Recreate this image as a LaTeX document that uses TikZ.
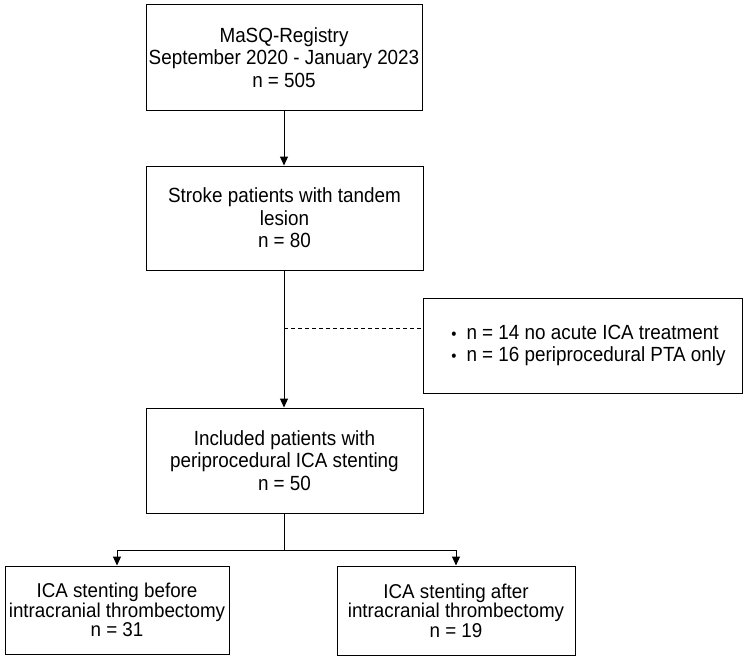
\documentclass[tikz,border=0pt]{standalone}
\usepackage{fontspec}
\setmainfont[FakeStretch=0.92]{Liberation Sans}
\newfontfamily\groupfont[FakeStretch=0.94]{Liberation Sans}
\usetikzlibrary{arrows.meta}

\begin{document}
\begin{tikzpicture}[x=1pt, y=1pt,
    every node/.style={font=\fontsize{20.5}{22.5}\selectfont},
    box/.style={draw, line width=1pt, rectangle, inner sep=0pt, align=center},
    smallbox/.style={box, font=\groupfont\fontsize{20}{17.5}\selectfont},
    link/.style={line width=1pt, -{Triangle[length=9pt,width=8pt]}}]
    \useasboundingbox (0,0) rectangle (750,-661);

    % main column
    \node[box, minimum width=276, minimum height=105] (reg) at (284,-57.5)
        {MaSQ-Registry\\September 2020 - January 2023\\n = 505};
    \node[box, minimum width=277, minimum height=104] (lesion) at (284.5,-218)
        {Stroke patients with tandem\\lesion\\n = 80};
    \node[box, minimum width=277, minimum height=105] (incl) at (284.5,-460.5)
        {Included patients with\\periprocedural ICA stenting\\n = 50};

    % excluded
    \node[box, minimum width=319, minimum height=95, align=left] (excl) at (582.5,-345.5)
        {\hspace{12pt}{\fontsize{16}{16}\selectfont\textbullet}\hspace{10pt}n = 14 no acute ICA treatment\\
         \hspace{12pt}{\fontsize{16}{16}\selectfont\textbullet}\hspace{10pt}n = 16 periprocedural PTA only};

    % groups
    \node[smallbox, minimum width=224, minimum height=88] (before) at (117,-610)
        {ICA stenting before\\intracranial thrombectomy\\n = 31};
    \node[smallbox, minimum width=238, minimum height=89] (after) at (456,-610.5)
        {ICA stenting after\\intracranial thrombectomy\\n = 19};

    \coordinate (dash) at (284,-328);
    \coordinate (split) at (284,-550);

    \draw[link] (reg.south -| 284,0) -- (lesion.north -| 284,0);
    \draw[link] (lesion.south -| 284,0) -- (incl.north -| 284,0);
    \draw[line width=1pt, dash pattern=on 4pt off 3pt] (dash) -- (excl.west |- dash);
    \draw[line width=1pt] (incl.south -| split) -- (split);
    \draw[link] (split) -| (before.north);
    \draw[link] (split) -| (after.north);
\end{tikzpicture}
\end{document}
